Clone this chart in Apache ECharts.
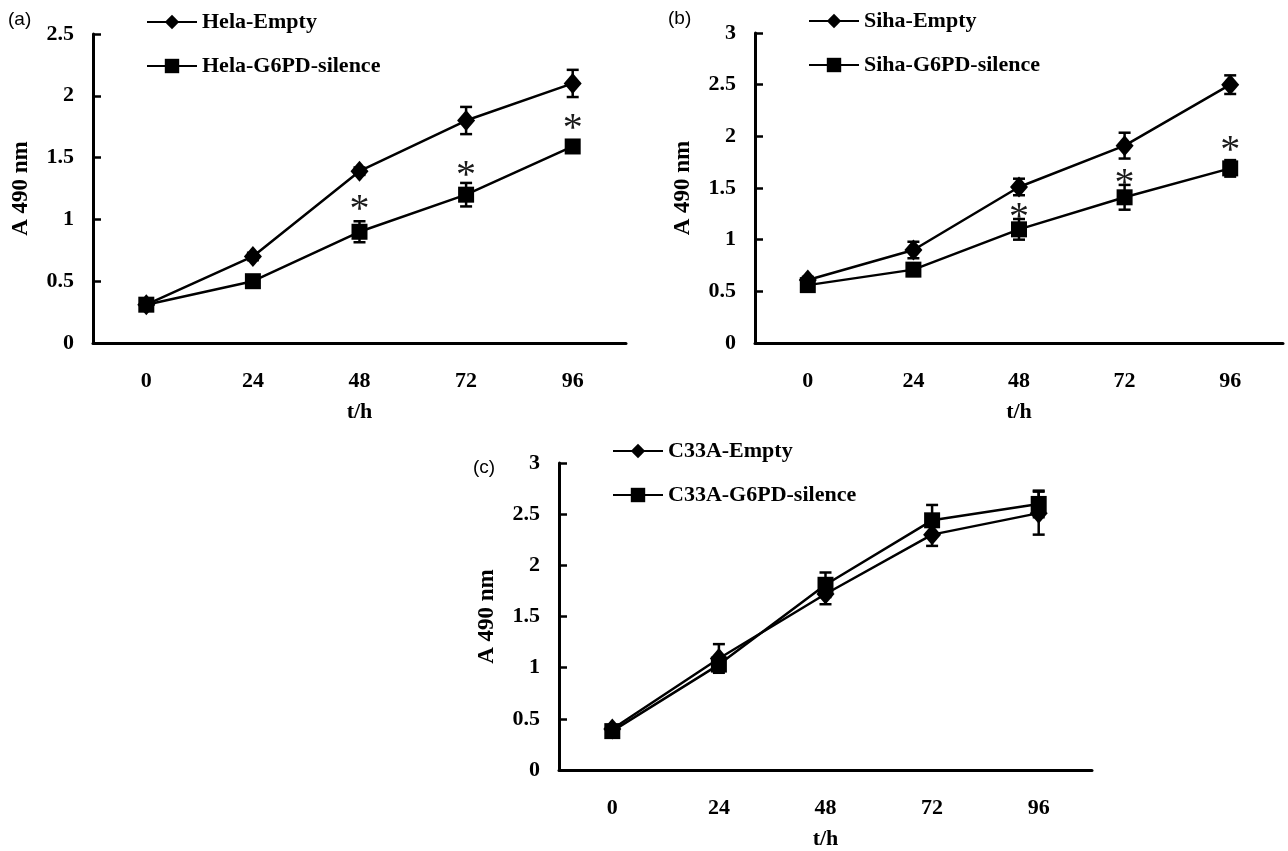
<!DOCTYPE html>
<html><head><meta charset="utf-8">
<script src="https://cdn.jsdelivr.net/npm/echarts@6/dist/echarts.min.js"></script>
<style>html,body{margin:0;padding:0;background:#fff}#c{width:1288px;height:851px}</style>
</head><body><div id="c"></div>
<script>
// ---- data ----
const categories = ['0', '24', '48', '72', '96'];
const xName = 't/h';
const yName = 'A 490 nm';

const helaEmpty      = [0.31, 0.70, 1.39, 1.80, 2.10];
const helaEmptyErr   = [0.02, 0.03, 0.03, 0.11, 0.11];
const helaSilence    = [0.31, 0.50, 0.90, 1.20, 1.59];
const helaSilenceErr = [0.03, 0.03, 0.085, 0.095, 0.03];
const helaStar       = [null, null, 1.12, 1.40, 1.78];

const sihaEmpty      = [0.61, 0.90, 1.51, 1.91, 2.50];
const sihaEmptyErr   = [0.03, 0.08, 0.08, 0.125, 0.09];
const sihaSilence    = [0.56, 0.71, 1.10, 1.41, 1.69];
const sihaSilenceErr = [0.03, 0.06, 0.10, 0.12, 0.08];
const sihaStar       = [null, null, 1.27, 1.60, 1.92];

const c33aEmpty      = [0.40, 1.09, 1.72, 2.30, 2.51];
const c33aEmptyErr   = [0.03, 0.14, 0.10, 0.11, 0.21];
const c33aSilence    = [0.38, 1.03, 1.81, 2.44, 2.60];
const c33aSilenceErr = [0.03, 0.05, 0.12, 0.15, 0.13];
const c33aStar       = [null, null, null, null, null];

const yMaxes = [2.5, 3, 3];
const panelLabels = ['(a)', '(b)', '(c)'];

// ---- chart ----
const serif = '"Liberation Serif", "Times New Roman", serif';
const chart = echarts.init(document.getElementById('c'), null, {renderer: 'canvas'});

function errRender(params, api) {
  const x = api.value(0);
  const lo = api.coord([x, api.value(1)]);
  const hi = api.coord([x, api.value(2)]);
  const w = 6;
  const style = {stroke: '#000', lineWidth: 2.5};
  return {type: 'group', children: [
    {type: 'line', shape: {x1: hi[0], y1: hi[1], x2: lo[0], y2: lo[1]}, style},
    {type: 'line', shape: {x1: hi[0] - w, y1: hi[1], x2: hi[0] + w, y2: hi[1]}, style},
    {type: 'line', shape: {x1: lo[0] - w, y1: lo[1], x2: lo[0] + w, y2: lo[1]}, style}
  ]};
}
const starSize = 40;
function starRender(params, api) {
  const p = api.coord([api.value(0), api.value(1)]);
  return {type: 'text', style: {text: '*', x: p[0], y: p[1] + starSize * 0.16, align: 'center', verticalAlign: 'middle',
    font: 'normal ' + starSize + 'px ' + serif, fill: '#1a1a1a'}};
}
function errData(v, e) { return v.map((d, i) => [i, d - e[i], d + e[i]]); }
function starData(s) { return s.map((d, i) => d == null ? null : [i, d]).filter(d => d); }

const grids = [
  {left: 93, top: 34, width: 533, height: 309},
  {left: 755, top: 33, width: 528, height: 310},
  {left: 559, top: 463, width: 533, height: 308}
];

const panels = [
  {names: ['Hela-Empty', 'Hela-G6PD-silence'], e: helaEmpty, ee: helaEmptyErr, s: helaSilence, se: helaSilenceErr, st: helaStar},
  {names: ['Siha-Empty', 'Siha-G6PD-silence'], e: sihaEmpty, ee: sihaEmptyErr, s: sihaSilence, se: sihaSilenceErr, st: sihaStar},
  {names: ['C33A-Empty', 'C33A-G6PD-silence'], e: c33aEmpty, ee: c33aEmptyErr, s: c33aSilence, se: c33aSilenceErr, st: c33aStar}
];

const fs = 22;
const axisLineStyle = {color: '#000', width: 3};
const xAxes = [], yAxes = [], series = [], legends = [], titles = [];
panels.forEach((p, k) => {
  xAxes.push({
    type: 'category', gridIndex: k, data: categories, boundaryGap: true,
    name: xName, nameLocation: 'middle', nameGap: 58,
    nameTextStyle: {fontFamily: serif, fontWeight: 'bold', fontSize: fs, color: '#000'},
    axisLine: {lineStyle: axisLineStyle},
    axisTick: {inside: true, length: 8, lineStyle: {color: '#000', width: 2.5}},
    axisLabel: {margin: 27, fontFamily: serif, fontWeight: 'bold', fontSize: fs, color: '#000'},
    splitLine: {show: false}
  });
  yAxes.push({
    type: 'value', gridIndex: k, min: 0, max: yMaxes[k], interval: 0.5,
    name: yName, nameLocation: 'middle', nameGap: 60, nameRotate: 90,
    nameTextStyle: {fontFamily: serif, fontWeight: 'bold', fontSize: 23, color: '#000'},
    axisLine: {show: true, lineStyle: axisLineStyle},
    axisTick: {show: true, inside: true, length: 8, lineStyle: {color: '#000', width: 2.5}},
    axisLabel: {margin: 19, fontFamily: serif, fontWeight: 'bold', fontSize: fs, color: '#000'},
    splitLine: {show: false}
  });
  const lineCommon = {type: 'line', xAxisIndex: k, yAxisIndex: k, color: '#000',
    lineStyle: {color: '#000', width: 2.5}, itemStyle: {color: '#000'}, showAllSymbol: true};
  series.push(Object.assign({}, lineCommon, {name: p.names[0], data: p.e, symbol: 'diamond', symbolSize: [18, 21], z: 3}));
  series.push(Object.assign({}, lineCommon, {name: p.names[1], data: p.s, symbol: 'rect', symbolSize: 16, z: 4}));
  series.push({type: 'custom', xAxisIndex: k, yAxisIndex: k, renderItem: errRender, data: errData(p.e, p.ee), encode: {x: 0, y: [1, 2]}, z: 5});
  series.push({type: 'custom', xAxisIndex: k, yAxisIndex: k, renderItem: errRender, data: errData(p.s, p.se), encode: {x: 0, y: [1, 2]}, z: 5});
  series.push({type: 'custom', xAxisIndex: k, yAxisIndex: k, renderItem: starRender, data: starData(p.st), encode: {x: 0, y: 1}, z: 6});
  legends.push({
    data: p.names, orient: 'vertical', left: grids[k].left + 53, top: grids[k].top - 23,
    itemWidth: 50, itemHeight: 18, itemGap: 22, padding: 0,
    textStyle: {fontFamily: serif, fontWeight: 'bold', fontSize: fs, color: '#000'}
  });
  titles.push({text: panelLabels[k], left: grids[k].left - 86, top: grids[k].top - 24, padding: 0,
    textStyle: {fontFamily: '"Liberation Sans", Arial, sans-serif', fontWeight: 'normal', fontSize: 19, color: '#000'}});
});
titles[0].left = 8;
titles[1].left = 668;
titles[2].left = 473; titles[2].top = 458;

chart.setOption({
  animation: false,
  backgroundColor: '#fff',
  title: titles,
  legend: legends,
  grid: grids,
  xAxis: xAxes,
  yAxis: yAxes,
  series: series
});
</script>
</body></html>
